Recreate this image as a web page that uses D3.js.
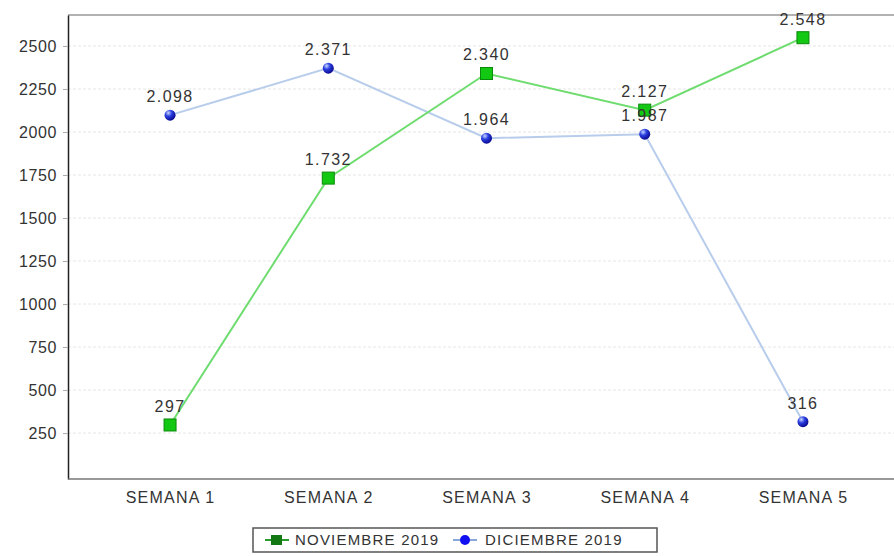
<!DOCTYPE html>
<html>
<head>
<meta charset="utf-8">
<script src="https://cdn.jsdelivr.net/npm/d3@7"></script>
<style>
  body { margin: 0; background: #fff; }
  svg { display: block; font-family: "Liberation Sans", Arial, sans-serif; }
  .grid line { stroke: #e6e6e6; stroke-dasharray: 3,2; }
  .tick text { fill: #333; }
</style>
</head>
<body>
<div id="chart"></div>
<script>
var semanas = ['SEMANA 1', 'SEMANA 2', 'SEMANA 3', 'SEMANA 4', 'SEMANA 5'];
var noviembre = [297, 1732, 2340, 2127, 2548];
var diciembre = [2098, 2371, 1964, 1987, 316];
var yTicks = [250, 500, 750, 1000, 1250, 1500, 1750, 2000, 2250, 2500];
var seriesNames = ['NOVIEMBRE 2019', 'DICIEMBRE 2019'];

var width = 894, height = 556;
var plot = { left: 68, right: 905, top: 15, bottom: 479 };

var svg = d3.select('#chart').append('svg')
    .attr('width', width)
    .attr('height', height);

var defs = svg.append('defs');
var grad = defs.append('radialGradient')
    .attr('id', 'ballBlue')
    .attr('cx', '35%').attr('cy', '30%').attr('r', '70%');
grad.append('stop').attr('offset', '0%').attr('stop-color', '#c8d8ff');
grad.append('stop').attr('offset', '45%').attr('stop-color', '#2a3ee0');
grad.append('stop').attr('offset', '100%').attr('stop-color', '#0a0a90');

var x = d3.scalePoint()
    .domain(semanas)
    .range([plot.left, plot.right])
    .padding(0.645);

var y = d3.scaleLinear()
    .domain([-17, 2680])
    .range([plot.bottom, plot.top]);

var fmt = function(v) { return d3.format(',')(v).replace(/,/g, '.'); };

// gridlines
svg.append('g')
    .attr('class', 'grid')
    .selectAll('line')
    .data(yTicks)
    .enter().append('line')
    .attr('x1', plot.left).attr('x2', width)
    .attr('y1', function(d) { return y(d); })
    .attr('y2', function(d) { return y(d); });

// top border
svg.append('line')
    .attr('x1', plot.left).attr('x2', width)
    .attr('y1', plot.top).attr('y2', plot.top)
    .attr('stroke', '#999').attr('stroke-width', 1.5);

// y axis
var yAxis = svg.append('g')
    .attr('transform', 'translate(' + plot.left + ',0)')
    .call(d3.axisLeft(y).tickValues(yTicks).tickFormat(d3.format('d'))
      .tickSizeInner(5).tickSizeOuter(0).tickPadding(6));
yAxis.select('.domain').attr('stroke', '#222').attr('stroke-width', 1.5);
yAxis.selectAll('.tick line').attr('stroke', '#aaa');
yAxis.selectAll('.tick text').attr('font-size', 16).attr('letter-spacing', 0.6);

// x axis
var xAxis = svg.append('g')
    .attr('transform', 'translate(0,' + plot.bottom + ')')
    .call(d3.axisBottom(x).tickSize(0).tickPadding(13));
xAxis.select('.domain').attr('d', 'M' + plot.left + ',0H' + width)
    .attr('stroke', '#777').attr('stroke-width', 1.5);
xAxis.selectAll('.tick text').attr('font-size', 16).attr('letter-spacing', 1.2);

var line = d3.line()
    .x(function(d, i) { return x(semanas[i]); })
    .y(function(d) { return y(d); });

// lines
svg.append('path')
    .datum(diciembre)
    .attr('fill', 'none')
    .attr('stroke', '#b8cdeb')
    .attr('stroke-width', 2)
    .attr('d', line);

svg.append('path')
    .datum(noviembre)
    .attr('fill', 'none')
    .attr('stroke', '#6fdc6f')
    .attr('stroke-width', 2)
    .attr('d', line);

// markers
svg.append('g').selectAll('circle')
    .data(diciembre)
    .enter().append('circle')
    .attr('cx', function(d, i) { return x(semanas[i]); })
    .attr('cy', function(d) { return y(d); })
    .attr('r', 5.5)
    .attr('fill', 'url(#ballBlue)');

svg.append('g').selectAll('rect')
    .data(noviembre)
    .enter().append('rect')
    .attr('x', function(d, i) { return x(semanas[i]) - 6; })
    .attr('y', function(d) { return y(d) - 6; })
    .attr('width', 12)
    .attr('height', 12)
    .attr('fill', '#12c812')
    .attr('stroke', '#0a8a0a')
    .attr('stroke-width', 1);

// value labels
function labels(data) {
  svg.append('g').selectAll('text')
      .data(data)
      .enter().append('text')
      .attr('x', function(d, i) { return x(semanas[i]); })
      .attr('y', function(d) { return y(d) - 13; })
      .attr('text-anchor', 'middle')
      .attr('font-size', 16)
      .attr('letter-spacing', 1.4)
      .attr('fill', '#333')
      .text(fmt);
}
labels(noviembre);
labels(diciembre);

// legend
var legend = svg.append('g').attr('transform', 'translate(253,528)');
legend.append('rect')
    .attr('width', 404).attr('height', 24)
    .attr('fill', '#fff')
    .attr('stroke', '#555').attr('stroke-width', 1.5);

var leg1 = legend.append('g').attr('transform', 'translate(12,12)');
leg1.append('line').attr('x1', 0).attr('x2', 24).attr('stroke', '#2a9a2a').attr('stroke-width', 2);
leg1.append('rect').attr('x', 6).attr('y', -5).attr('width', 11).attr('height', 10).attr('fill', '#137a13');
leg1.append('text').attr('x', 30).attr('y', 5).attr('font-size', 15).attr('letter-spacing', 1.2)
    .attr('fill', '#333').text(seriesNames[0]);

var leg2 = legend.append('g').attr('transform', 'translate(200,12)');
leg2.append('line').attr('x1', 0).attr('x2', 24).attr('stroke', '#8aa8dd').attr('stroke-width', 2);
leg2.append('circle').attr('cx', 12).attr('r', 5).attr('fill', '#1010f0');
leg2.append('text').attr('x', 32).attr('y', 5).attr('font-size', 15).attr('letter-spacing', 1.2)
    .attr('fill', '#333').text(seriesNames[1]);
</script>
</body>
</html>
